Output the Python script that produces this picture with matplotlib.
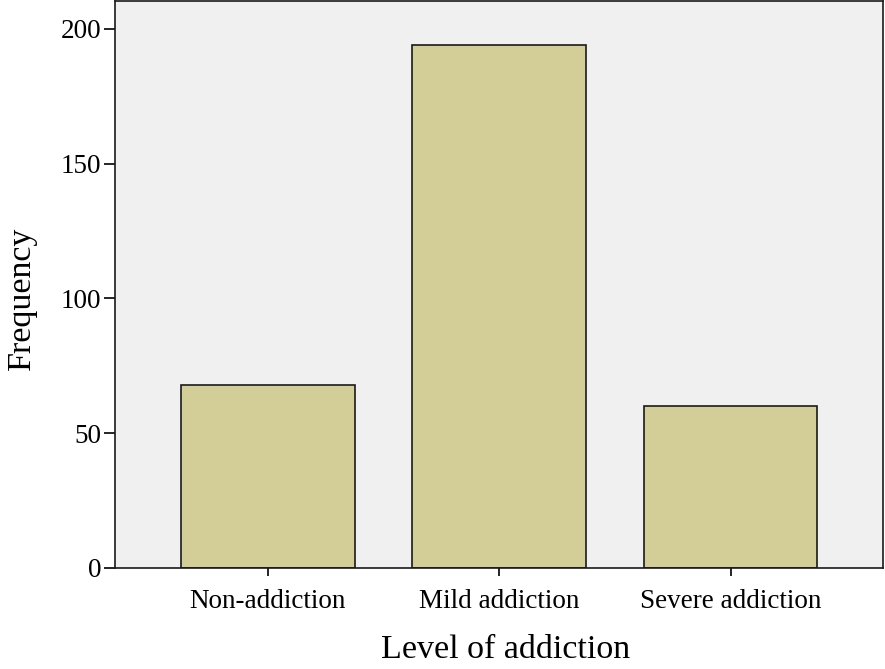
import matplotlib
matplotlib.use("Agg")
import matplotlib.pyplot as plt

categories = ["Non-addiction", "Mild addiction", "Severe addiction"]
frequency = [68, 194, 60]
y_ticks = [0, 50, 100, 150, 200]

plt.rcParams["font.family"] = ["Liberation Serif", "DejaVu Serif"]

fig = plt.figure(figsize=(8.85, 6.69), dpi=100)
ax = fig.add_axes([0.130, 0.151, 0.868, 0.848])
ax.set_facecolor("#f0f0f0")

x = range(len(categories))
ax.bar(x, frequency, width=0.75, color="#d3ce97", edgecolor="#1a1a1a", linewidth=1.2)

ax.set_xlim(-0.66, 2.66)
ax.set_ylim(0, 210.5)
ax.set_xticks(list(x))
ax.set_xticklabels(categories, fontsize=19.5)
ax.set_yticks(y_ticks)
ax.set_yticklabels([str(t) for t in y_ticks], fontsize=19.5)
ax.tick_params(axis="y", length=8, width=1.2, pad=2)
ax.tick_params(axis="x", length=6, width=1.2, pad=9)

for s in ax.spines.values():
    s.set_linewidth(1.2)
    s.set_color("#1a1a1a")

ax.set_xlabel("Level of addiction", fontsize=24.5, labelpad=15)
ax.xaxis.label.set_x(0.509)
ax.set_ylabel("Frequency", fontsize=24.5)
ax.yaxis.set_label_coords(-0.101, 0.475)

fig.savefig("out.png", dpi=100)
